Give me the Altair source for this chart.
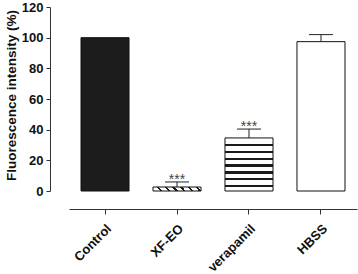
import altair as alt
import pandas as pd

categories = ["Control", "XF-EO", "verapamil", "HBSS"]
means = [100, 2.6, 34.6, 97.4]
errors = [0, 3.3, 5.8, 4.6]
stars = ["", "***", "***", ""]
y_ticks = [0, 20, 40, 60, 80, 100, 120]

df = pd.DataFrame({
    "cat": categories,
    "mean": means,
    "err": errors,
    "upper": [m + e for m, e in zip(means, errors)],
    "star": stars,
})

FONT = "Liberation Sans"

def stripes(offsets, thick, dark="#1a1a1a", light="#ffffff"):
    stops = [{"offset": 0, "color": light}]
    for o in offsets:
        stops += [
            {"offset": o - thick / 2, "color": light},
            {"offset": o - thick / 2, "color": dark},
            {"offset": o + thick / 2, "color": dark},
            {"offset": o + thick / 2, "color": light},
        ]
    stops.append({"offset": 1, "color": light})
    return stops

hatch_fill = {
    "gradient": "linear", "x1": 0, "y1": 0.04, "x2": 1, "y2": -0.04,
    "stops": stripes([0.1, 0.26, 0.42, 0.58, 0.74, 0.9], 0.05),
}
stripe_fill = {
    "gradient": "linear", "x1": 0, "y1": 0, "x2": 0, "y2": 1,
    "stops": stripes([0.13, 0.27, 0.40, 0.52, 0.65, 0.77, 0.90], 0.045),
}

x_axis = alt.Axis(title=None, labelAngle=-45, labelFont=FONT,
                  labelFontWeight="bold", labelFontSize=13,
                  labelColor="#111", domainColor="#333",
                  tickColor="#333", tickSize=5, offset=18,
                  labelPadding=8, labelOverlap=False)
y_axis = alt.Axis(values=y_ticks, tickCount=7,
                  grid=False, offset=19, labelOverlap=False,
                  title="Fluorescence intensity (%)",
                  titleFont=FONT, titleFontWeight="bold",
                  titleFontSize=13.5, titleColor="#111",
                  titleAngle=-90, titleX=-39, titleY=88,
                  titleAlign="center", titleBaseline="middle",
                  labelFont=FONT, labelFontWeight="bold",
                  labelFontSize=13, labelColor="#111",
                  domainColor="#333", tickColor="#333",
                  tickSize=4, labelPadding=3)

x_scale = alt.Scale(paddingInner=0.333, paddingOuter=0.1667)
y_scale = alt.Scale(domain=[0, 120], nice=False)

x_enc = alt.X("cat:N", sort=categories, scale=x_scale, axis=x_axis)

def y_enc(field):
    return alt.Y(field, type="quantitative", scale=y_scale, axis=y_axis)

base = alt.Chart(df)

def bar_for(cat, fill):
    return base.transform_filter(alt.datum.cat == cat).mark_bar(
        fill=fill, stroke="#111", strokeWidth=1
    ).encode(x=x_enc, y=y_enc("mean"))

bars = alt.layer(
    bar_for("Control", "#1c1c1c"),
    bar_for("XF-EO", hatch_fill),
    bar_for("verapamil", stripe_fill),
    bar_for("HBSS", "#ffffff"),
)

err_df = base.transform_filter(alt.datum.err > 0)
rules = err_df.mark_rule(color="#222", strokeWidth=1).encode(
    x=x_enc, y=y_enc("mean"), y2="upper:Q")
caps = err_df.mark_tick(color="#222", thickness=1, size=24, opacity=1).encode(
    x=x_enc, y=y_enc("upper"))
texts = base.transform_filter(alt.datum.star != "").mark_text(
    font=FONT, fontSize=14, fill="#444", color="#444",
    baseline="alphabetic", dy=2
).encode(x=x_enc, y=y_enc("upper"), text="star:N")

chart = alt.layer(bars, rules, caps, texts).properties(
    width=288, height=184, background="white",
    autosize=alt.AutoSizeParams(type="none"),
    padding={"left": 69, "top": 7, "right": 1, "bottom": 83},
).configure_view(strokeWidth=0, stroke=None)

chart.save("out.html", embed_options={"renderer": "svg", "actions": False})
